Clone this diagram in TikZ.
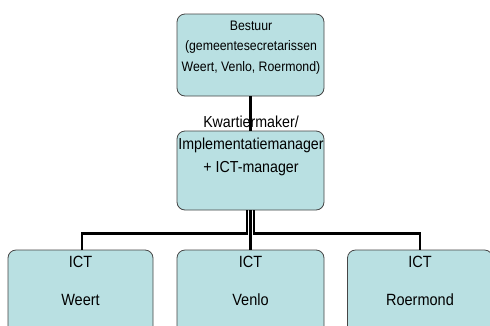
\documentclass[tikz,border=0pt]{standalone}
\usepackage{fontspec}
\setmainfont{Liberation Sans}
\definecolor{boxfill}{RGB}{185,224,226}
\definecolor{boxline}{RGB}{70,70,70}
% slightly taller letters, as in the original chart
\newcommand\stretchline[1]{\scalebox{1}[1.12]{#1}}
\begin{document}
\begin{tikzpicture}[x=1pt,y=-1pt,
  box/.style={draw=boxline, line width=0.8pt, fill=boxfill, rounded corners=8pt, inner sep=0pt},
  conn/.style={line width=2.2pt, draw=black},
  lbl/.style={align=center, inner sep=0pt, text=black}]
\useasboundingbox (0,0) rectangle (490,325);
\fill[white] (0,0) rectangle (490,325);
\clip (0,0) rectangle (490,325);

% boxes
\node[box, minimum width=147pt, minimum height=82pt] (bestuur) at (250.5,55) {};
\node[box, minimum width=147pt, minimum height=79pt] (mid) at (250.5,170.5) {};
\node[box, minimum width=145pt, minimum height=100pt] (weert) at (80.5,300) {};
\node[box, minimum width=147pt, minimum height=100pt] (venlo) at (250.5,300) {};
\node[box, minimum width=145pt, minimum height=100pt] (roermond) at (420,300) {};

% connectors
\coordinate (bus) at (0,233.5);
\draw[conn] (bestuur.south) -- (mid.north);
\draw[conn] ([xshift=-3.2pt]mid.south) |- ([xshift=1.5pt]weert.north |- bus) -- ([xshift=1.5pt]weert.north);
\draw[conn] (mid.south) -- (venlo.north);
\draw[conn] ([xshift=3.2pt]mid.south) |- (roermond.north |- bus) -- (roermond.north);

% texts
\node[lbl, font=\fontsize{12.3}{20.5}\selectfont] (bestuurtxt) at (251,47.5)
  {\stretchline{Bestuur}\\\stretchline{(gemeentesecretarissen}\\\stretchline{Weert, Venlo, Roermond)}};
\node[lbl, font=\fontsize{14.2}{22.5}\selectfont] (midtxt) at (251,145.5)
  {\stretchline{Kwartiermaker/}\\\stretchline{Implementatiemanager}\\\stretchline{+ ICT-manager}};
\node[lbl, font=\fontsize{14.5}{38}\selectfont] (weerttxt) at (80.5,281)
  {\stretchline{ICT}\\\stretchline{Weert}};
\node[lbl, font=\fontsize{14.5}{38}\selectfont] (venlotxt) at (250.5,281)
  {\stretchline{ICT}\\\stretchline{Venlo}};
\node[lbl, font=\fontsize{14.5}{38}\selectfont] (roermondtxt) at (420,281)
  {\stretchline{ICT}\\\stretchline{Roermond}};
\end{tikzpicture}
\end{document}
